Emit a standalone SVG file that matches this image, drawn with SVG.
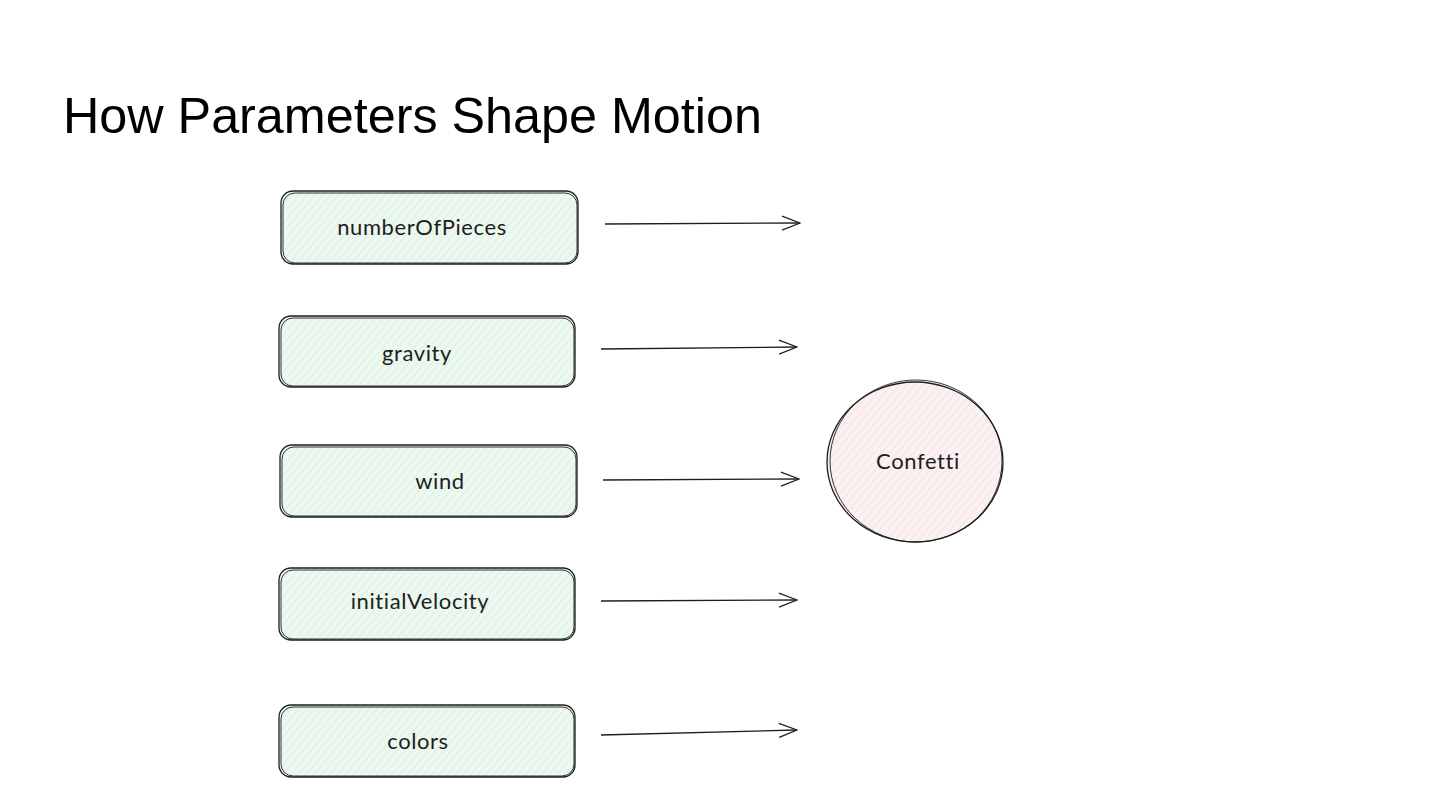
<svg xmlns="http://www.w3.org/2000/svg" width="1440" height="810" viewBox="0 0 1440 810">
<style>
.box{fill:url(#hatchG);stroke:#1e1e1e;stroke-width:1.3}
.box2{fill:none;stroke:#1e1e1e;stroke-width:0.9}
.lbl{font-family:Lato,"Liberation Sans",sans-serif;font-size:22px;letter-spacing:0.6px;fill:#1e1e1e;text-anchor:middle;dominant-baseline:central}
.arr{fill:none;stroke:#1e1e1e;stroke-width:1.3}
.title{font-family:"Liberation Sans",Arial,sans-serif;font-size:50.3px;fill:#000}
</style>
<defs>
<pattern id="hatchG" patternUnits="userSpaceOnUse" width="6" height="6" patternTransform="rotate(40)">
<rect width="6" height="6" fill="#edf8f0"/>
<line x1="0" y1="0" x2="0" y2="6" stroke="#c9ead2" stroke-width="1"/>
</pattern>
<pattern id="hatchR" patternUnits="userSpaceOnUse" width="6" height="6" patternTransform="rotate(40)">
<rect width="6" height="6" fill="#fbf1f1"/>
<line x1="0" y1="0" x2="0" y2="6" stroke="#f0d8d8" stroke-width="1"/>
</pattern>
<marker id="ah" viewBox="0 0 20 20" refX="19" refY="10" markerWidth="20" markerHeight="20" markerUnits="userSpaceOnUse" orient="auto">
<path d="M1,3 L19,10 L1,17" fill="none" stroke="#1e1e1e" stroke-width="1.3"/>
</marker>
</defs>
<text class="title" x="63" y="133">How Parameters Shape Motion</text>
<g id="node-numberOfPieces">
<rect class="box" x="281" y="191" width="297" height="73" rx="12"/>
<rect class="box2" x="283" y="193" width="294" height="70" rx="12"/>
<text class="lbl" x="422" y="226">numberOfPieces</text>
</g>
<g id="node-gravity">
<rect class="box" x="279" y="316" width="296" height="71" rx="12"/>
<rect class="box2" x="281" y="318" width="293" height="68" rx="12"/>
<text class="lbl" x="417" y="352">gravity</text>
</g>
<g id="node-wind">
<rect class="box" x="280" y="445" width="297" height="72" rx="12"/>
<rect class="box2" x="282" y="447" width="294" height="69" rx="12"/>
<text class="lbl" x="440" y="480">wind</text>
</g>
<g id="node-initialVelocity">
<rect class="box" x="279" y="568" width="296" height="72" rx="12"/>
<rect class="box2" x="281" y="570" width="293" height="69" rx="12"/>
<text class="lbl" x="420" y="600">initialVelocity</text>
</g>
<g id="node-colors">
<rect class="box" x="279" y="705" width="296" height="72" rx="12"/>
<rect class="box2" x="281" y="707" width="293" height="69" rx="12"/>
<text class="lbl" x="418" y="740">colors</text>
</g>
<g id="node-confetti">
<ellipse cx="915" cy="462" rx="88" ry="80" fill="url(#hatchR)" stroke="#1e1e1e" stroke-width="1.3"/>
<ellipse cx="916" cy="461" rx="86" ry="81" fill="none" stroke="#1e1e1e" stroke-width="0.9"/>
<text class="lbl" x="918" y="460">Confetti</text>
</g>
<g id="connectors">
<path class="arr" d="M605,224 L800,223" marker-end="url(#ah)"/>
<path class="arr" d="M601,349 L797,347" marker-end="url(#ah)"/>
<path class="arr" d="M603,480 L799,479" marker-end="url(#ah)"/>
<path class="arr" d="M601,601 L797,600" marker-end="url(#ah)"/>
<path class="arr" d="M601,735 L797,730" marker-end="url(#ah)"/>
</g>
</svg>
